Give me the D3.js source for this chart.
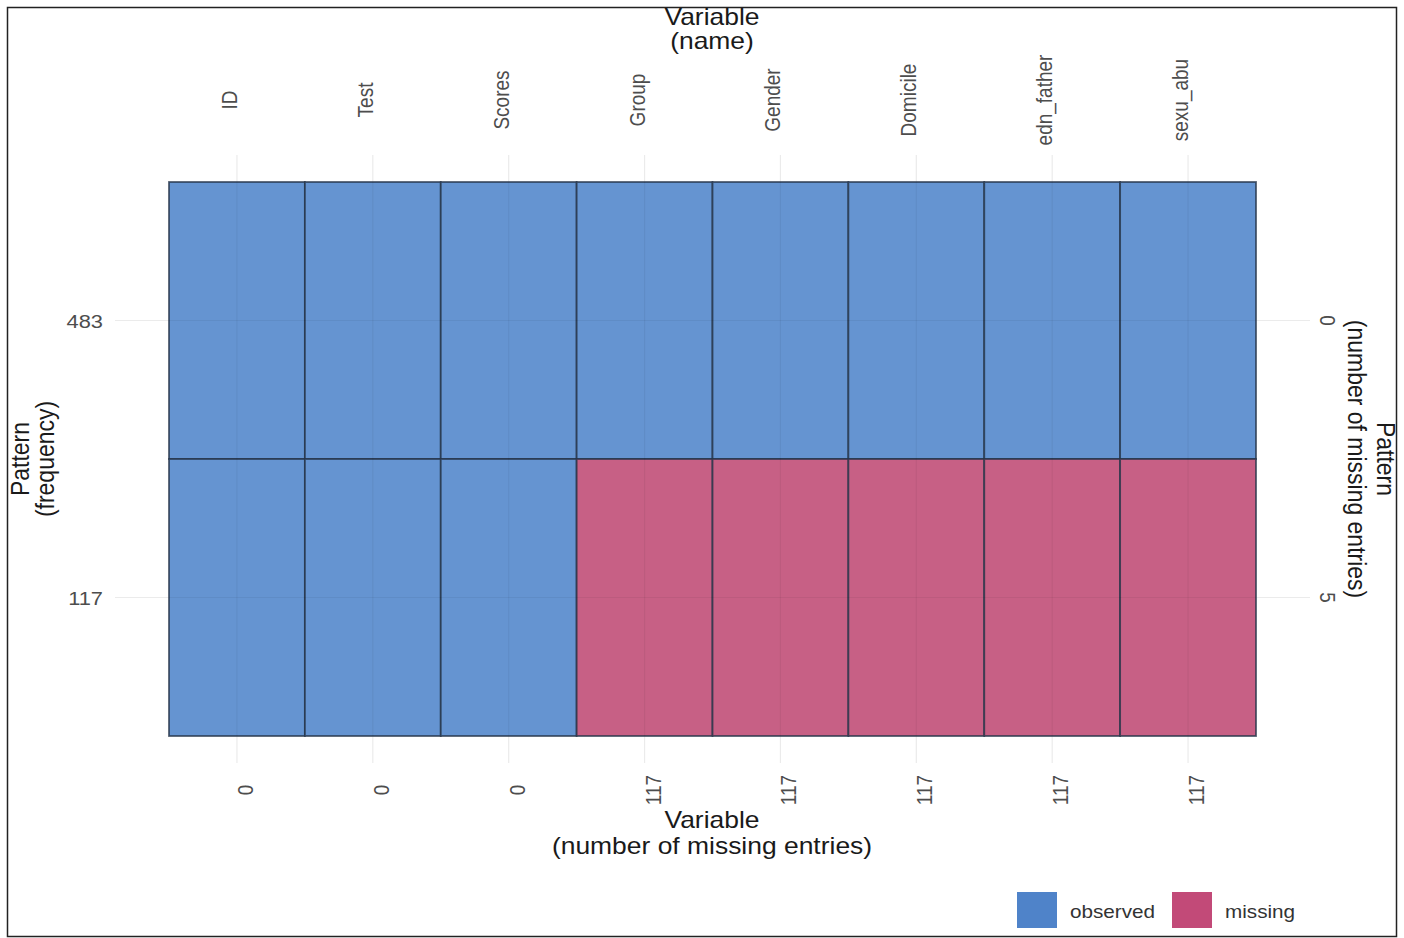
<!DOCTYPE html>
<html>
<head>
<meta charset="utf-8">
<script src="https://cdn.jsdelivr.net/npm/d3@7"></script>
<style>
  html, body { margin: 0; padding: 0; background: #fff; }
  svg { display: block; font-family: "Liberation Sans", Arial, sans-serif; }
</style>
</head>
<body>
<svg id="chart" width="1404" height="938"></svg>
<script>
// Variables (columns) and their missing-entry counts
const variables = ["ID", "Test", "Scores", "Group", "Gender", "Domicile", "edn_father", "sexu_abu"];
const missingCounts = [0, 0, 0, 117, 117, 117, 117, 117];

// Missing-data patterns (rows): frequency and number of missing entries
const patternFreq = [483, 117];
const patternMissing = [0, 5];
// 1 = observed, 0 = missing, one row per pattern
const patternRows = [
  [1, 1, 1, 1, 1, 1, 1, 1],
  [1, 1, 1, 0, 0, 0, 0, 0]
];

const legendKeys = ["observed", "missing"];
const tileColors = { observed: "#5f90cf", missing: "#c55a80" };
const keyColors = { observed: "#4f83c9", missing: "#c24a78" };

const svg = d3.select("#chart");

// Text helper: glyphs are drawn slightly wide (stretch across the reading direction
// for horizontal text, across the glyph height for rotated text).
const STRETCH = 1.15;
function label(parent, txt, x, y, opts) {
  const angle = opts.angle || 0;
  const sc = angle === 0 ? `scale(${STRETCH},1)` : `scale(1,${STRETCH})`;
  return parent.append("text")
    .attr("transform", `translate(${x},${y}) rotate(${angle}) ${sc}`)
    .attr("text-anchor", opts.anchor || "middle")
    .attr("fill", opts.color || "#4d4d4d")
    .style("font-size", (opts.size || 19) + "px")
    .text(txt);
}

// outer frame
svg.append("rect")
  .attr("x", 7.5).attr("y", 7.5).attr("width", 1389).attr("height", 929)
  .attr("fill", "none").attr("stroke", "#222").attr("stroke-width", 1.5);

const plot = { left: 169, right: 1256, top: 182, bottom: 736 };

const x = d3.scaleBand().domain(variables).range([plot.left, plot.right]).padding(0);
const y = d3.scaleBand().domain(d3.range(patternFreq.length)).range([plot.top, plot.bottom]).padding(0);
const cx = d => x(d) + x.bandwidth() / 2;
const cy = i => y(i) + y.bandwidth() / 2;

const grid = svg.append("g").attr("stroke", "#ebebeb").attr("stroke-width", 1.2);
// vertical gridlines (extend beyond the panel)
grid.selectAll("line.v").data(variables).join("line")
  .attr("x1", cx).attr("x2", cx)
  .attr("y1", plot.top - 27).attr("y2", plot.bottom + 27);
// horizontal gridlines
grid.selectAll("line.h").data(patternFreq).join("line")
  .attr("x1", plot.left - 54).attr("x2", plot.right + 54)
  .attr("y1", (d, i) => cy(i)).attr("y2", (d, i) => cy(i));

// tiles
const cells = [];
patternRows.forEach((row, i) => row.forEach((v, j) => cells.push({ i, j, key: v ? "observed" : "missing" })));
svg.append("g").selectAll("rect").data(cells).join("rect")
  .attr("x", d => x(variables[d.j]))
  .attr("y", d => y(d.i))
  .attr("width", x.bandwidth())
  .attr("height", y.bandwidth())
  .attr("fill", d => tileColors[d.key])
  .attr("fill-opacity", 0.96)
  .attr("stroke", "#27364a")
  .attr("stroke-opacity", 0.8)
  .attr("stroke-width", 1.8);

// faint gridlines showing through tiles
const ggrid = svg.append("g").attr("stroke", "#000").attr("stroke-opacity", 0.05).attr("stroke-width", 1.2);
ggrid.selectAll("line.v").data(variables).join("line")
  .attr("x1", cx).attr("x2", cx)
  .attr("y1", plot.top).attr("y2", plot.bottom);
ggrid.selectAll("line.h").data(patternFreq).join("line")
  .attr("x1", plot.left).attr("x2", plot.right)
  .attr("y1", (d, i) => cy(i)).attr("y2", (d, i) => cy(i));

// top variable names (rotated, baseline on the gridline)
const topG = svg.append("g");
variables.forEach(v => label(topG, v, cx(v), 100, { angle: -90 }));

// bottom missing counts (rotated)
const botG = svg.append("g");
variables.forEach((v, i) => label(botG, missingCounts[i], cx(v) + 16, 790, { angle: -90 }));

// left: pattern frequency
const leftG = svg.append("g");
patternFreq.forEach((f, i) => label(leftG, f, 103, cy(i) + 7, { anchor: "end" }));

// right: number of missing entries per pattern (rotated)
const rightG = svg.append("g");
patternMissing.forEach((m, i) => label(rightG, m, 1320, cy(i), { angle: 90 }));

// axis titles
const tOpts = { size: 23, color: "#1a1a1a" };
const titles = svg.append("g");
label(titles, "Variable", 712, 25, tOpts);
label(titles, "(name)", 712, 49, tOpts);
label(titles, "Variable", 712, 828, tOpts);
label(titles, "(number of missing entries)", 712, 854, tOpts);
label(titles, "Pattern", 29, 459, { ...tOpts, angle: -90 });
label(titles, "(frequency)", 54, 459, { ...tOpts, angle: -90 });
label(titles, "Pattern", 1377, 459, { ...tOpts, angle: 90 });
label(titles, "(number of missing entries)", 1348, 459, { ...tOpts, angle: 90 });

// legend
const legend = svg.append("g");
const legendX = [1017, 1172];
legendKeys.forEach((k, i) => {
  legend.append("rect").attr("x", legendX[i]).attr("y", 892).attr("width", 40).attr("height", 36)
    .attr("fill", keyColors[k]);
  label(legend, k, legendX[i] + 53, 918, { anchor: "start", size: 18, color: "#333" });
});
</script>
</body>
</html>
